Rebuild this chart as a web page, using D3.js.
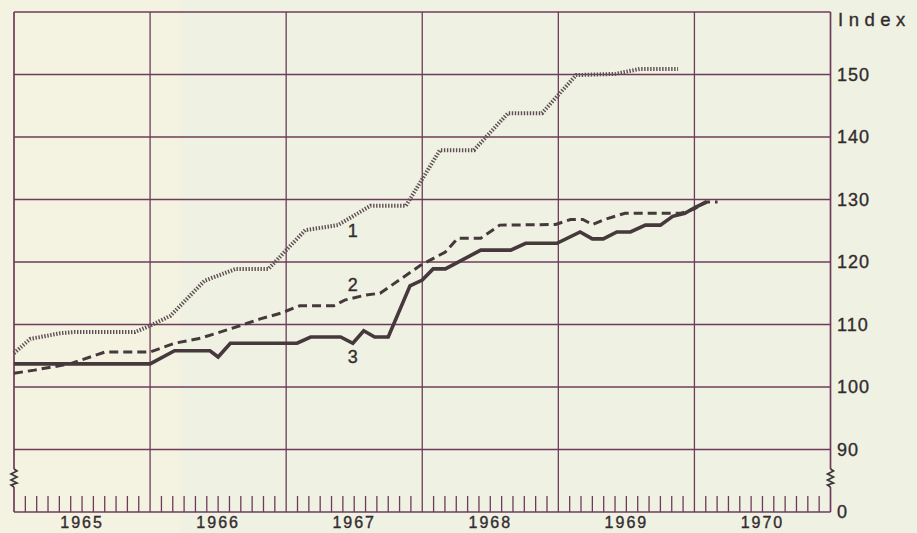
<!DOCTYPE html>
<html lang="de">
<head>
<meta charset="utf-8">
<title>Index 1965-1970</title>
<script src="https://d3js.org/d3.v7.min.js"></script>
<style>
  body { margin: 0; background: #f2f1e3; }
  svg { display: block; }
  text { font-family: "Liberation Sans", Arial, sans-serif; fill: #332c2e; stroke: #332c2e; stroke-width: 0.35; }
</style>
</head>
<body>
<script>

// series 1 (dotted), 2 (dashed), 3 (solid): [year, index]
const serie1 = [
  [1965.00, 105.4], [1965.12, 107.7], [1965.34, 108.6], [1965.45, 108.8],
  [1965.89, 108.8], [1966.00, 109.8], [1966.15, 111.4], [1966.40, 117.0],
  [1966.63, 118.9], [1966.87, 118.9], [1967.14, 125.1], [1967.38, 125.9],
  [1967.62, 129.0], [1967.88, 129.0], [1968.13, 137.9], [1968.38, 137.9],
  [1968.63, 143.8], [1968.88, 143.8], [1969.13, 149.9], [1969.42, 150.1],
  [1969.60, 150.9], [1969.88, 150.9]
];
const serie2 = [
  [1965.00, 102.2], [1965.15, 102.7], [1965.41, 103.7], [1965.56, 104.8],
  [1965.67, 105.6], [1966.00, 105.6], [1966.18, 107.0], [1966.37, 107.8],
  [1966.66, 109.8], [1966.81, 110.9], [1966.96, 111.8], [1967.10, 113.0],
  [1967.35, 113.0], [1967.43, 113.9], [1967.58, 114.7], [1967.69, 115.0],
  [1967.99, 119.5], [1968.17, 121.6], [1968.26, 123.8], [1968.43, 123.8],
  [1968.57, 125.9], [1968.98, 126.0], [1969.09, 126.8], [1969.18, 126.8],
  [1969.25, 126.0], [1969.34, 126.8], [1969.49, 127.8], [1969.90, 127.8],
  [1970.00, 128.5], [1970.08, 129.6], [1970.17, 129.6]
];
const serie3 = [
  [1965.00, 103.7], [1966.00, 103.7], [1966.18, 105.8], [1966.44, 105.8],
  [1966.50, 104.8], [1966.59, 107.0], [1967.08, 107.0], [1967.18, 108.0],
  [1967.40, 108.0], [1967.49, 107.0], [1967.57, 109.0], [1967.65, 108.0],
  [1967.75, 108.0], [1967.91, 116.2], [1968.00, 117.1], [1968.08, 118.9],
  [1968.17, 118.9], [1968.43, 121.9], [1968.65, 121.9], [1968.76, 123.0],
  [1968.99, 123.0], [1969.16, 124.8], [1969.25, 123.7], [1969.33, 123.7],
  [1969.43, 124.8], [1969.53, 124.8], [1969.64, 125.9], [1969.75, 125.9],
  [1969.84, 127.3], [1969.93, 127.8], [1970.01, 128.8], [1970.09, 129.6]
];

const jahre = [1965, 1966, 1967, 1968, 1969, 1970];
const yTicks = [90, 100, 110, 120, 130, 140, 150];
const labels = [
  { text: "1", t: 1967.49, v: 125.0 },
  { text: "2", t: 1967.49, v: 116.3 },
  { text: "3", t: 1967.49, v: 104.8 }
];

const w = 917, h = 533;
const mLeft = 14, mRight = 830.5, mTop = 12, mBottom = 512;

const svg = d3.select("body").append("svg")
  .attr("width", w)
  .attr("height", h);

svg.append("rect").attr("width", w).attr("height", h).attr("fill", "#f4f2e1");
// slightly greener middle of the scanned page
svg.append("rect").attr("x", 180).attr("y", 0).attr("width", 737).attr("height", h)
  .attr("fill", "#edf0e4").attr("opacity", 0.8);

const x = d3.scaleLinear().domain([1965, 1971]).range([mLeft, mRight]);
const y = d3.scaleLinear().domain([90, 160]).range([449.5, mTop]);

const gridColor = "#6e3c5a";
const grid = svg.append("g").attr("stroke", gridColor).attr("fill", "none");

// horizontal grid lines incl. top border
grid.selectAll("line.h")
  .data(yTicks.concat([160]))
  .join("line")
  .attr("class", "h")
  .attr("x1", mLeft).attr("x2", mRight)
  .attr("y1", d => y(d)).attr("y2", d => y(d))
  .attr("stroke-width", d => d === 160 ? 1.7 : 1.3);

// year boundaries (vertical)
grid.selectAll("line.v")
  .data(d3.range(1965, 1972))
  .join("line")
  .attr("class", "v")
  .attr("x1", d => x(d)).attr("x2", d => x(d))
  .attr("y1", mTop).attr("y2", mBottom)
  .attr("stroke-width", d => (d === 1965 || d === 1971) ? 1.7 : 1.3);

// bottom axis
grid.append("line")
  .attr("x1", mLeft).attr("x2", mRight)
  .attr("y1", mBottom).attr("y2", mBottom)
  .attr("stroke-width", 1.7);

// monthly ticks
const months = [];
jahre.forEach(j => { for (let m = 1; m < 12; m++) months.push(j + m / 12); });
grid.selectAll("line.m")
  .data(months)
  .join("line")
  .attr("class", "m")
  .attr("x1", d => x(d)).attr("x2", d => x(d))
  .attr("y1", mBottom - 16).attr("y2", mBottom)
  .attr("stroke-width", 1.3);

// axis break marks
function zickzack(cx, cy) {
  return `M${cx},${cy - 9} L${cx + 3},${cy - 7} L${cx - 3},${cy - 4} L${cx + 3},${cy - 1}` +
         ` L${cx - 3},${cy + 2} L${cx + 3},${cy + 5} L${cx - 3},${cy + 7} L${cx},${cy + 9}`;
}
[mLeft, mRight].forEach(cx => {
  svg.append("rect").attr("x", cx - 2).attr("y", 469).attr("width", 4).attr("height", 18)
    .attr("fill", "#f0f0e3");
  svg.append("path").attr("d", zickzack(cx, 478))
    .attr("fill", "none").attr("stroke", "#3d3536").attr("stroke-width", 1.7);
});

// series
const line = d3.line().x(d => x(d[0])).y(d => y(d[1]));
const lineColor = "#46393c";

svg.append("path").datum(serie1)
  .attr("d", line)
  .attr("fill", "none")
  .attr("stroke", "#5e4e53")
  .attr("stroke-width", 4)
  .attr("stroke-dasharray", "1.4,1.6");

svg.append("path").datum(serie2)
  .attr("d", line)
  .attr("fill", "none")
  .attr("stroke", lineColor)
  .attr("stroke-width", 3)
  .attr("stroke-dasharray", "9,5");

svg.append("path").datum(serie3)
  .attr("d", line)
  .attr("fill", "none")
  .attr("stroke", lineColor)
  .attr("stroke-width", 3.6)
  .attr("stroke-linejoin", "miter");

// series numbers
svg.selectAll("text.num")
  .data(labels)
  .join("text")
  .attr("class", "num")
  .attr("x", d => x(d.t))
  .attr("y", d => y(d.v))
  .attr("text-anchor", "middle")
  .attr("dominant-baseline", "central")
  .attr("font-size", 18)
  .text(d => d.text);

// right axis labels
svg.selectAll("text.yt")
  .data(yTicks)
  .join("text")
  .attr("class", "yt")
  .attr("x", 837)
  .attr("y", d => y(d))
  .attr("dominant-baseline", "central")
  .attr("font-size", 18)
  .attr("letter-spacing", 1)
  .text(d => d);

svg.append("text")
  .attr("x", 837).attr("y", mBottom)
  .attr("dominant-baseline", "central")
  .attr("font-size", 18)
  .text("0");

svg.append("text")
  .attr("x", 838).attr("y", 26)
  .attr("font-size", 18.5)
  .attr("letter-spacing", 5.5)
  .text("Index");

// year labels
svg.selectAll("text.jahr")
  .data(jahre)
  .join("text")
  .attr("class", "jahr")
  .attr("x", d => x(d + 0.5))
  .attr("y", 528)
  .attr("text-anchor", "middle")
  .attr("font-size", 16)
  .attr("letter-spacing", 2)
  .text(d => d);

</script>
</body>
</html>
